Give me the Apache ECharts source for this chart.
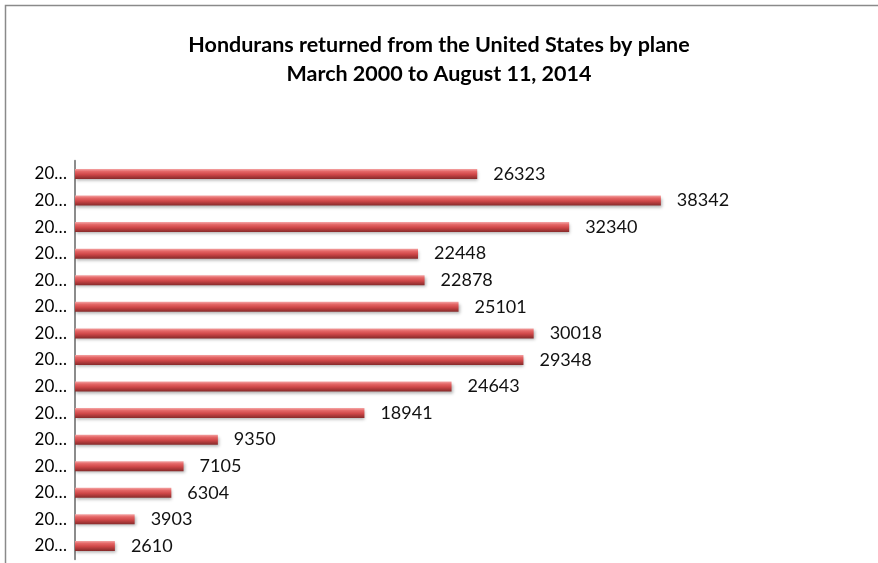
<!DOCTYPE html>
<html>
<head>
<meta charset="utf-8">
<script src="https://cdn.jsdelivr.net/npm/echarts@6/dist/echarts.min.js"></script>
<style>html,body{margin:0;padding:0;background:#fff;}#c{width:878px;height:563px;}</style>
</head>
<body>
<div id="c"></div>
<script>
var titleLines = ['Hondurans returned from the United States by plane', 'March 2000 to August 11, 2014'];
var years = ['2000','2001','2002','2003','2004','2005','2006','2007','2008','2009','2010','2011','2012','2013','2014'];
var returned = [2610, 3903, 6304, 7105, 9350, 18941, 24643, 29348, 30018, 25101, 22878, 22448, 32340, 38342, 26323];

var chart = echarts.init(document.getElementById('c'), null, {renderer: 'canvas'});
var font = 'Lato, "Open Sans", sans-serif';
chart.setOption({
  animation: false,
  backgroundColor: '#fff',
  graphic: [{
    type: 'rect', silent: true,
    shape: {x: 5.5, y: 5.5, width: 1200, height: 1200},
    style: {fill: 'none', stroke: '#8a8a8a', lineWidth: 1.5}
  }],
  title: {
    text: titleLines.join('\n'),
    left: 'center', top: 26,
    textStyle: {fontFamily: font, fontSize: 21.5, fontWeight: 'bold', color: '#000', lineHeight: 29}
  },
  grid: {left: 75, right: 39, top: 160.7, height: 398.5, containLabel: false},
  xAxis: {
    type: 'value', min: 0, max: 50000, show: false,
    splitLine: {show: false}
  },
  yAxis: {
    type: 'category', data: years,
    axisLine: {show: true, lineStyle: {color: '#8c8c8c', width: 2}},
    axisTick: {show: false},
    axisLabel: {
      fontFamily: font, fontSize: 17, color: '#000', margin: 8,
      formatter: function (v) { return v.slice(0, 2) + '…'; }
    }
  },
  series: [{
    type: 'bar', data: returned, barWidth: 10,
    itemStyle: {
      color: new echarts.graphic.LinearGradient(0, 0, 0, 1, [
        {offset: 0, color: '#f4a4a4'},
        {offset: 0.25, color: '#e46666'},
        {offset: 0.55, color: '#cf4748'},
        {offset: 1, color: '#862a2a'}
      ]),
      shadowColor: 'rgba(0,0,0,0.3)', shadowBlur: 3, shadowOffsetY: 2, shadowOffsetX: 1
    },
    label: {
      show: true, position: 'right', distance: 16,
      fontFamily: font, fontSize: 18, color: '#111'
    }
  }]
});
</script>
</body>
</html>
